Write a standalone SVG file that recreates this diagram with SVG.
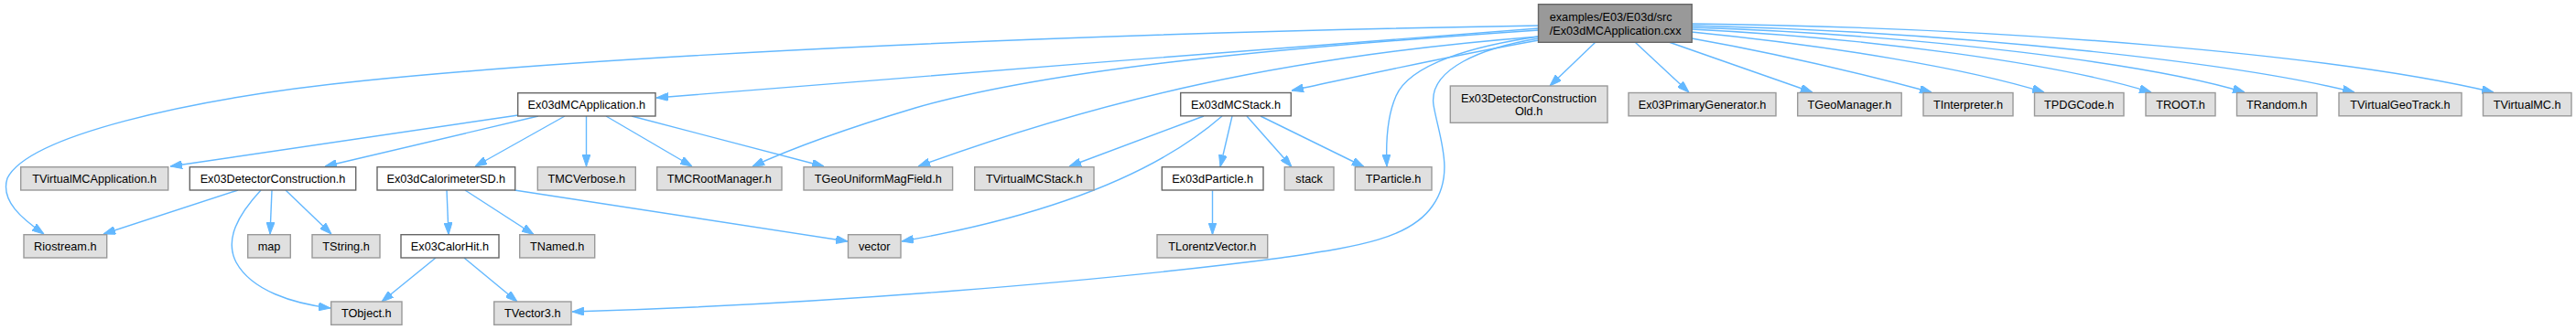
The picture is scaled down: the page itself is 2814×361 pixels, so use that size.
<svg xmlns="http://www.w3.org/2000/svg" width="2814" height="361" viewBox="0 0 2814 361">
<style>
text{font-family:"Liberation Sans",Arial,Helvetica,sans-serif;font-size:12.7px;fill:#000;text-anchor:middle}
.ext{fill:#e0e0e0;stroke:#999999;stroke-width:1.4}
.int{fill:#ffffff;stroke:#666666;stroke-width:1.4}
.main{fill:#999999;stroke:#666666;stroke-width:1.4}
.e{fill:none;stroke:#63b8ff;stroke-width:1.4;marker-end:url(#ah)}
</style>
<defs>
<marker id="ah" viewBox="0 0 13 9" markerWidth="13" markerHeight="9" markerUnits="userSpaceOnUse" refX="13" refY="4.5" orient="auto">
<path d="M0,0 L13,4.5 L0,9 Z" fill="#63b8ff" stroke="#63b8ff" stroke-width="1"/>
</marker>
</defs>
<rect width="2814" height="361" fill="#ffffff"/>
<g id="connectors">
<path class="e" d="M1681,31 C1400,52 1000,84 717,107"/>
<path class="e" d="M1681,28 C1200,36 700,58 400,88 C200,108 30,150 8,195 C0,220 25,240 48,256"/>
<path class="e" d="M1681,33 C1400,52 1150,75 1000,118 C920,142 870,160 822,182"/>
<path class="e" d="M1681,40 C1400,62 1200,110 1003,182"/>
<path class="e" d="M1681,44 C1580,62 1500,80 1411,99"/>
<path class="e" d="M1681,40 C1610,50 1540,70 1525,105 C1514,130 1514,160 1515,182"/>
<path class="e" d="M1681,42 C1620,52 1560,75 1566,115 C1572,150 1590,190 1565,225 C1540,262 1480,270 1400,282 C1200,308 900,333 625,341"/>
<path class="e" d="M1743,46 L1693,94"/>
<path class="e" d="M1786,46 L1845,101"/>
<path class="e" d="M1823,46 L1980,101"/>
<path class="e" d="M1848,42 C1950,60 2050,85 2110,101"/>
<path class="e" d="M1848,35 C2000,50 2150,75 2233,101"/>
<path class="e" d="M1848,32 C2050,42 2250,70 2350,101"/>
<path class="e" d="M1848,30 C2100,38 2350,70 2452,101"/>
<path class="e" d="M1848,28 C2150,35 2450,70 2572,101"/>
<path class="e" d="M1848,26 C2200,30 2550,60 2724,101"/>
<path class="e" d="M566,126 L186,182"/>
<path class="e" d="M588,127 L355,182"/>
<path class="e" d="M617,127 L519,182"/>
<path class="e" d="M640.5,127 L640.5,182"/>
<path class="e" d="M662,127 L756,182"/>
<path class="e" d="M690,127 L900,182"/>
<path class="e" d="M260,208 L113,256"/>
<path class="e" d="M297,208 L295,256"/>
<path class="e" d="M312,208 L362,256"/>
<path class="e" d="M285,208 C260,235 245,262 258,287 C275,318 320,332 361,337"/>
<path class="e" d="M488,208 L490,256.5"/>
<path class="e" d="M508,208 L583,256.5"/>
<path class="e" d="M562,208 L926,264"/>
<path class="e" d="M476,282 L417,330"/>
<path class="e" d="M507,282 L565,330"/>
<path class="e" d="M1315,127 L1168,182"/>
<path class="e" d="M1335,127 C1280,175 1180,230 985,264"/>
<path class="e" d="M1346,127 L1333,182.5"/>
<path class="e" d="M1362,127 L1411,182.5"/>
<path class="e" d="M1377,127 L1490,182.5"/>
<path class="e" d="M1324.5,208.3 L1324.5,256.5"/>
</g>
<g id="n_main"><rect class="main" x="1680.5" y="4.7" width="167.7" height="41.6"/><text x="1692.7" y="23.3" style="text-anchor:start">examples/E03/E03d/src</text><text x="1692.7" y="37.7" style="text-anchor:start">/Ex03dMCApplication.cxx</text></g>
<g id="n_mcapp"><rect class="int" x="565.7" y="101.7" width="150.3" height="25.3"/><text x="640.8" y="118.8">Ex03dMCApplication.h</text></g>
<g id="n_mcstack"><rect class="int" x="1289.7" y="101.5" width="120.6" height="25.3"/><text x="1350" y="118.6">Ex03dMCStack.h</text></g>
<g id="n_old"><rect class="ext" x="1584.3" y="94" width="171.7" height="40.3"/><text x="1670.1" y="111.7">Ex03DetectorConstruction</text><text x="1670.1" y="126">Old.h</text></g>
<g id="n_primgen"><rect class="ext" x="1779" y="101.5" width="161" height="25.3"/><text x="1859.5" y="118.6">Ex03PrimaryGenerator.h</text></g>
<g id="n_geomgr"><rect class="ext" x="1963.7" y="101.5" width="113.5" height="25.3"/><text x="2020.4" y="118.6">TGeoManager.h</text></g>
<g id="n_interp"><rect class="ext" x="2101" y="101.5" width="98" height="25.3"/><text x="2150" y="118.6">TInterpreter.h</text></g>
<g id="n_pdg"><rect class="ext" x="2222.5" y="101.5" width="97.5" height="25.3"/><text x="2271.2" y="118.6">TPDGCode.h</text></g>
<g id="n_root"><rect class="ext" x="2344" y="101.5" width="76" height="25.3"/><text x="2382" y="118.6">TROOT.h</text></g>
<g id="n_random"><rect class="ext" x="2443.5" y="101.5" width="87.5" height="25.3"/><text x="2487.2" y="118.6">TRandom.h</text></g>
<g id="n_geotrack"><rect class="ext" x="2555" y="101.5" width="134" height="25.3"/><text x="2622" y="118.6">TVirtualGeoTrack.h</text></g>
<g id="n_vmc"><rect class="ext" x="2712.5" y="101.5" width="96.5" height="25.3"/><text x="2760.7" y="118.6">TVirtualMC.h</text></g>
<g id="n_vmcapp"><rect class="ext" x="22.7" y="182.7" width="161" height="25.3"/><text x="103.2" y="199.8">TVirtualMCApplication.h</text></g>
<g id="n_detcon"><rect class="int" x="207.3" y="182.7" width="181.4" height="25.3"/><text x="298" y="199.8">Ex03DetectorConstruction.h</text></g>
<g id="n_calsd"><rect class="int" x="412" y="182.7" width="150.7" height="25.3"/><text x="487.3" y="199.8">Ex03dCalorimeterSD.h</text></g>
<g id="n_verbose"><rect class="ext" x="587.3" y="182.7" width="107" height="25.3"/><text x="640.8" y="199.8">TMCVerbose.h</text></g>
<g id="n_rootmgr"><rect class="ext" x="717.7" y="182.7" width="136.3" height="25.3"/><text x="785.8" y="199.8">TMCRootManager.h</text></g>
<g id="n_magfield"><rect class="ext" x="878" y="182.7" width="162.6" height="25.3"/><text x="959.3" y="199.8">TGeoUniformMagField.h</text></g>
<g id="n_vmcstack"><rect class="ext" x="1064.7" y="182.7" width="130.3" height="25.3"/><text x="1129.8" y="199.8">TVirtualMCStack.h</text></g>
<g id="n_particle"><rect class="int" x="1269.3" y="182.7" width="110.7" height="25.3"/><text x="1324.6" y="199.8">Ex03dParticle.h</text></g>
<g id="n_stack"><rect class="ext" x="1403.3" y="182.7" width="53.7" height="25.3"/><text x="1430.1" y="199.8">stack</text></g>
<g id="n_tparticle"><rect class="ext" x="1480.3" y="182.7" width="83.7" height="25.3"/><text x="1522.1" y="199.8">TParticle.h</text></g>
<g id="n_riostream"><rect class="ext" x="26" y="256.7" width="90.7" height="25.3"/><text x="71.3" y="273.8">Riostream.h</text></g>
<g id="n_map"><rect class="ext" x="270.7" y="256.7" width="46.6" height="25.3"/><text x="294" y="273.8">map</text></g>
<g id="n_tstring"><rect class="ext" x="341" y="256.7" width="74" height="25.3"/><text x="378" y="273.8">TString.h</text></g>
<g id="n_calorhit"><rect class="int" x="438" y="256.7" width="107" height="25.3"/><text x="491.5" y="273.8">Ex03CalorHit.h</text></g>
<g id="n_tnamed"><rect class="ext" x="567.7" y="256.7" width="82" height="25.3"/><text x="608.7" y="273.8">TNamed.h</text></g>
<g id="n_vector"><rect class="ext" x="926.5" y="256.7" width="57.5" height="25.3"/><text x="955.2" y="273.8">vector</text></g>
<g id="n_lorentz"><rect class="ext" x="1264" y="256.7" width="120.7" height="25.3"/><text x="1324.3" y="273.8">TLorentzVector.h</text></g>
<g id="n_tobject"><rect class="ext" x="361.7" y="330" width="77.3" height="25.3"/><text x="400.3" y="347.1">TObject.h</text></g>
<g id="n_tvector3"><rect class="ext" x="539.7" y="330" width="84.3" height="25.3"/><text x="581.8" y="347.1">TVector3.h</text></g>
</svg>
